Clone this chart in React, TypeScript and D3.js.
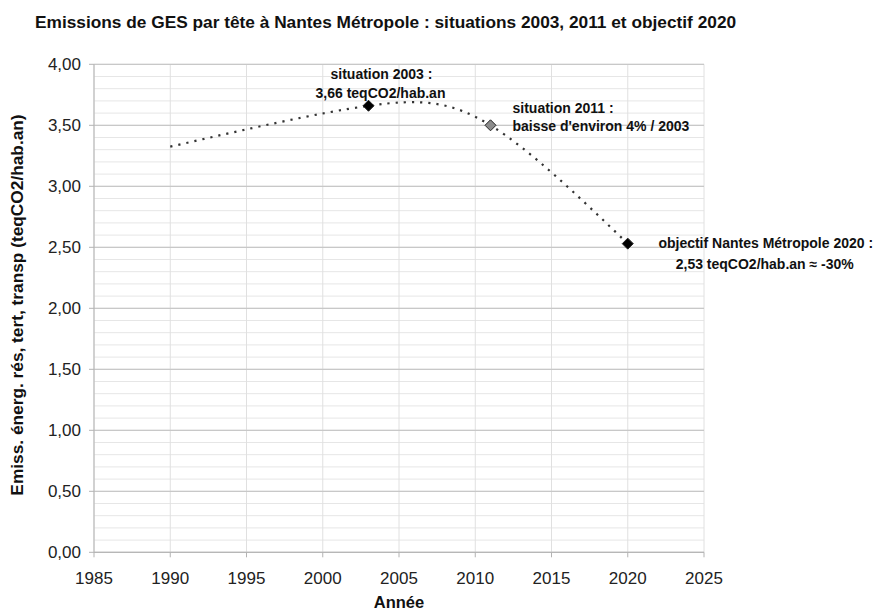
import * as d3 from 'd3'

// dotted trend (spline through known points)
const curveYears = [1990, 2003, 2011, 2020]
const curveValues = [3.325, 3.66, 3.5, 2.53]

// highlighted situations
const markerYears = [2003, 2011, 2020]
const markerValues = [3.66, 3.5, 2.53]
const markerFills = ['#000000', '#8c8c8c', '#000000']

const xTicks = [1985, 1990, 1995, 2000, 2005, 2010, 2015, 2020, 2025]
const yMajor = [0, 0.5, 1, 1.5, 2, 2.5, 3, 3.5, 4]
const yMinor = d3.range(0, 41).map(d => d / 10)

const title = 'Emissions de GES par tête à Nantes Métropole : situations 2003, 2011 et objectif 2020'
const yTitle = 'Emiss. énerg. rés, tert, transp (teqCO2/hab.an)'
const xTitle = 'Année'

const width = 881
const height = 613
const margin = { top: 64.3, right: 177, bottom: 60.7, left: 94 }
const font = '"Liberation Sans", Arial, Helvetica, sans-serif'

export default function App() {
  const x = d3.scaleLinear().domain([1985, 2025]).range([margin.left, width - margin.right])
  const y = d3.scaleLinear().domain([0, 4]).range([height - margin.bottom, margin.top])
  const fmt = (v: number) => d3.format('.2f')(v).replace('.', ',')

  const line = d3.line<number>()
    .x((d, i) => x(curveYears[i]))
    .y(d => y(d))
    .curve(d3.curveNatural)

  const diamond = (cx: number, cy: number, r: number) =>
    `M${cx},${cy - r}L${cx + r},${cy}L${cx},${cy + r}L${cx - r},${cy}Z`

  const [x0, x1] = x.range()
  const [y0, y1] = y.range()

  return (
    <svg width={width} height={height} style={{ position: 'absolute', left: 0, top: 0, background: '#fff' }}
      fontFamily={font}>
      <text x={35} y={28.3} fontSize={17.3} fontWeight="bold" fill="#111">{title}</text>

      {/* minor horizontal grid */}
      {yMinor.map(v => (
        <line key={'mn' + v} x1={x0} x2={x1} y1={y(v)} y2={y(v)} stroke="#e6e6e6" strokeWidth={1} />
      ))}
      {/* vertical grid */}
      {xTicks.map(t => (
        <line key={'vg' + t} x1={x(t)} x2={x(t)} y1={y0} y2={y1} stroke="#e0e0e0" strokeWidth={1} />
      ))}
      {/* major horizontal grid */}
      {yMajor.map(v => (
        <line key={'mj' + v} x1={x0} x2={x1} y1={y(v)} y2={y(v)} stroke="#c8c8c8" strokeWidth={1.2} />
      ))}

      {/* axes */}
      <line x1={x0} x2={x0} y1={y0} y2={y1} stroke="#b3b3b3" />
      <line x1={x0} x2={x1} y1={y0} y2={y0} stroke="#b3b3b3" />
      {yMajor.map(v => (
        <g key={'yt' + v}>
          <line x1={x0 - 5} x2={x0} y1={y(v)} y2={y(v)} stroke="#b3b3b3" />
          <text x={x0 - 13} y={y(v)} dy="0.36em" textAnchor="end" fontSize={17} fill="#222">{fmt(v)}</text>
        </g>
      ))}
      {xTicks.map(t => (
        <g key={'xt' + t}>
          <line x1={x(t)} x2={x(t)} y1={y0} y2={y0 + 5} stroke="#b3b3b3" />
          <text x={x(t)} y={y0 + 32} textAnchor="middle" fontSize={17} fill="#222">{t}</text>
        </g>
      ))}

      <text x={(x0 + x1) / 2} y={608} textAnchor="middle" fontSize={16.5} fontWeight="bold" fill="#111">{xTitle}</text>
      <text transform={`translate(23,305) rotate(-90)`} textAnchor="middle" fontSize={17.3}
        fontWeight="bold" fill="#111">{yTitle}</text>

      {/* dotted curve */}
      <path d={line(curveValues) ?? ''} fill="none" stroke="#333" strokeWidth={2.2}
        strokeDasharray="2.2,6" />

      {markerYears.map((yr, i) => (
        <path key={'m' + yr} d={diamond(x(yr), y(markerValues[i]), 5.5)} fill={markerFills[i]}
          stroke="#222" strokeWidth={1} />
      ))}

      {/* annotations */}
      <g fontSize={14} fontWeight="bold" fill="#111">
        <text x={x(2003) + 13} y={y(3.66) - 27} textAnchor="middle">situation 2003 :</text>
        <text x={x(2003) + 12} y={y(3.66) - 8} textAnchor="middle">3,66 teqCO2/hab.an</text>
        <text x={x(2011) + 22} y={y(3.5) - 12}>situation 2011 :</text>
        <text x={x(2011) + 22} y={y(3.5) + 6}>baisse d'environ 4% / 2003</text>
        <text x={x(2020) + 138} y={y(2.53) + 4.5} textAnchor="middle">objectif Nantes Métropole 2020 :</text>
        <text x={x(2020) + 137} y={y(2.53) + 25} textAnchor="middle">2,53 teqCO2/hab.an ≈ -30%</text>
      </g>
    </svg>
  )
}
